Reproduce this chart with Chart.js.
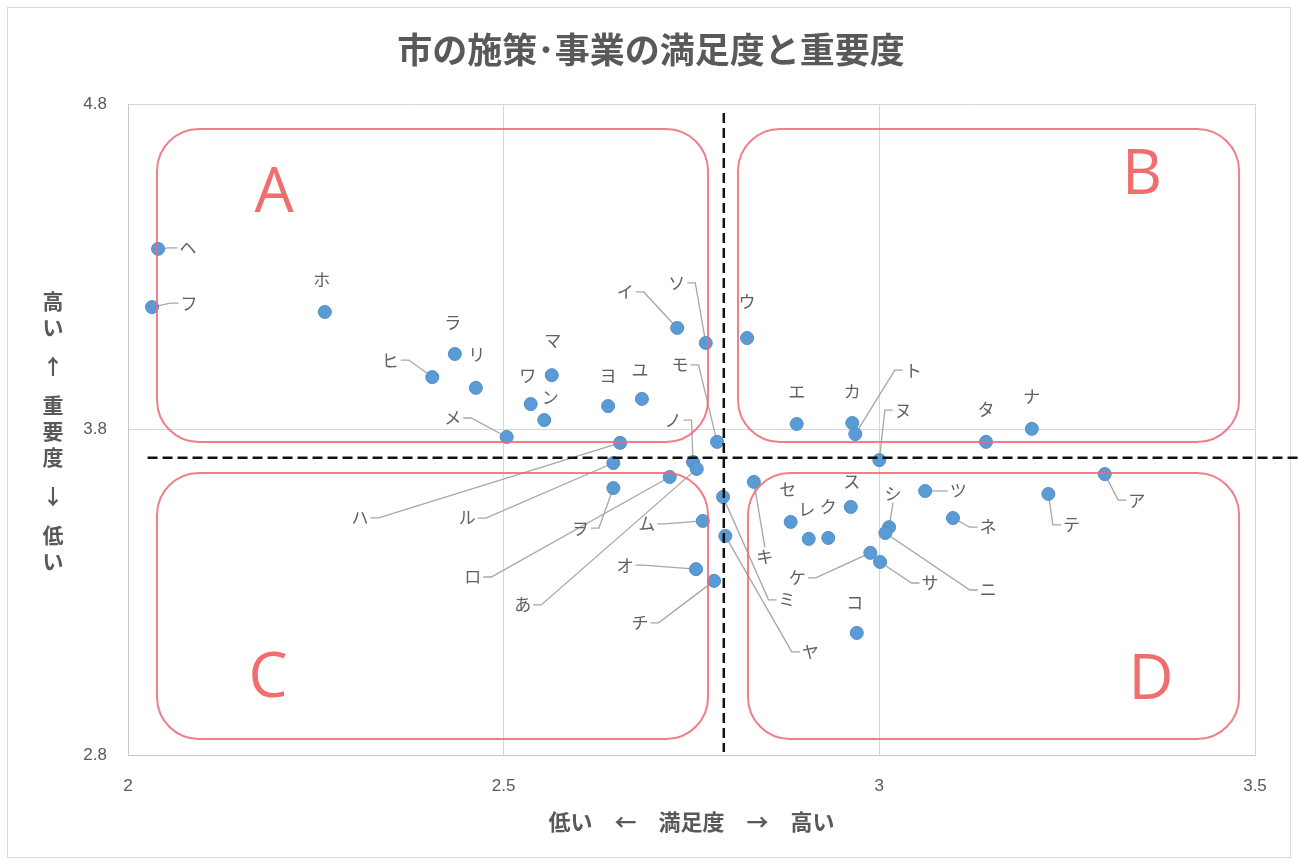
<!DOCTYPE html>
<html lang="ja">
<head>
<meta charset="utf-8">
<title>市の施策・事業の満足度と重要度</title>
<script src="https://cdn.jsdelivr.net/npm/chart.js@4.4.1/dist/chart.umd.min.js"></script>
<style>
  html, body { margin: 0; padding: 0; background: #fff; }
  #wrap { width: 1298px; height: 865px; }
</style>
</head>
<body>
<div id="wrap"><canvas id="c" width="1298" height="865"></canvas></div>
<script>
// 施策・事業ごとの満足度(x)と重要度(y)
const categories = ['ア','イ','ウ','エ','オ','カ','キ','ク','ケ','コ','サ','シ','ス','セ','ソ','タ','チ','ツ','テ','ト',
                    'ナ','ニ','ヌ','ネ','ノ','ハ','ヒ','フ','ヘ','ホ','マ','ミ','ム','メ','モ','ヤ','ユ','ヨ','ラ','リ',
                    'ル','レ','ロ','ワ','ヲ','ン','あ'];
const satisfaction = [3.300, 2.731, 2.824, 2.890, 2.756, 2.964, 2.833, 2.932, 2.988, 2.970, 3.001, 3.013, 2.962, 2.882, 2.769, 3.142, 2.780, 3.061, 3.225, 2.968,
                      3.203, 3.008, 3.000, 3.098, 2.752, 2.655, 2.405, 2.032, 2.040, 2.262, 2.564, 2.792, 2.765, 2.504, 2.784, 2.795, 2.684, 2.639, 2.435, 2.463,
                      2.646, 2.906, 2.721, 2.536, 2.646, 2.554, 2.757];
const importance   = [3.663, 4.112, 4.081, 3.817, 3.371, 3.820, 3.639, 3.467, 3.421, 3.175, 3.393, 3.500, 3.562, 3.516, 4.066, 3.762, 3.335, 3.611, 3.602, 3.786,
                      3.802, 3.482, 3.706, 3.528, 3.700, 3.759, 3.961, 4.176, 4.355, 4.161, 3.967, 3.593, 3.519, 3.777, 3.762, 3.473, 3.894, 3.872, 4.032, 3.928,
                      3.697, 3.464, 3.654, 3.878, 3.620, 3.829, 3.679];

// 軸の目盛り
const xTicks = [2, 2.5, 3, 3.5];
const yTicks = [2.8, 3.8, 4.8];

// 平均値の基準線
const averageSatisfaction = 2.793;
const averageImportance = 3.713;

// 象限の名前
const quadrantNames = ['A', 'B', 'C', 'D'];

// ---- layout / styling below ----
const FONT = '"Noto Sans CJK JP", "Noto Sans", sans-serif';
const TEXT = '#595959';

// label offset from its point in px: [dx, dy, leader line]
const labelOffsets = [
  [32,26,1], [-52,-36,1], [0,-36,0], [0,-32,0], [-71,-4,1], [0,-31,0], [11,75,1], [0,-31,0], [-73,25,1], [-2,-30,0],
  [50,21,1], [4,-34,1], [1,-25,0], [-3,-32,0], [-29,-60,1], [0,-32,0], [-74,42,1], [33,0,1], [23,31,1], [58,-64,1],
  [0,-32,0], [103,57,1], [24,-50,1], [35,9,1], [-20,-42,1], [-260,75,1], [-42,-17,1], [37,-4,1], [30,-1,1], [-3,-32,0],
  [1,-35,0], [64,103,1], [-56,3,1], [-54,-19,1], [-37,-77,1], [85,116,1], [-2,-29,0], [0,-31,0], [-2,-31,0], [1,-33,0],
  [-146,55,1], [-2,-29,0], [-197,100,1], [-3,-29,0], [-33,40,1], [6,-23,0], [-174,136,1]
];

// quadrant frames in axis units, with the letter position
const quadrantFrames = [
  { x0: 2.0386, x1: 2.7720, y0: 4.7232, y1: 3.7616, lx: 2.1943, ly: 4.5389 },
  { x0: 2.8119, x1: 3.4788, y0: 4.7232, y1: 3.7616, lx: 3.3497, ly: 4.5942 },
  { x0: 2.0386, x1: 2.7720, y0: 3.6664, y1: 2.8492, lx: 2.1863, ly: 3.0488 },
  { x0: 2.8252, x1: 3.4788, y0: 3.6664, y1: 2.8492, lx: 3.3616, ly: 3.0427 }
];

const LABEL_FONT = '17px ' + FONT;

const framePlugin = {
  id: 'outerFrame',
  beforeDraw(chart) {
    const c = chart.ctx;
    c.save();
    c.fillStyle = '#fff';
    c.fillRect(0, 0, chart.width, chart.height);
    c.strokeStyle = '#d9d9d9';
    c.lineWidth = 1;
    c.strokeRect(7.5, 7.5, 1283, 850);
    c.restore();
  }
};

const leaderAndLabels = {
  id: 'leaderAndLabels',
  beforeDatasetsDraw(chart) {
    const c = chart.ctx;
    const meta = chart.getDatasetMeta(0);
    c.save();
    c.font = LABEL_FONT;
    c.strokeStyle = '#a6a6a6';
    c.lineWidth = 1.3;
    meta.data.forEach((el, i) => {
      const [dx, dy, lead] = labelOffsets[i];
      if (!lead) return;
      const lx = el.x + dx, ly = el.y + dy;
      const w = c.measureText(categories[i]).width;
      const h = 17;
      const left = lx - w / 2 - 2, right = lx + w / 2 + 2;
      c.beginPath();
      if (el.x < left - 8) {
        c.moveTo(left, ly); c.lineTo(left - 8, ly); c.lineTo(el.x, el.y);
      } else if (el.x > right + 8) {
        c.moveTo(right, ly); c.lineTo(right + 8, ly); c.lineTo(el.x, el.y);
      } else {
        const yy = el.y > ly ? ly + h / 2 + 1 : ly - h / 2 - 1;
        c.moveTo(lx, yy); c.lineTo(el.x, el.y);
      }
      c.stroke();
    });
    c.restore();
  },
  afterDatasetsDraw(chart) {
    const c = chart.ctx;
    const {x, y} = chart.scales;
    // average lines
    c.save();
    c.strokeStyle = '#111';
    c.lineWidth = 2.5;
    c.setLineDash([10, 5]);
    c.beginPath();
    const hy = y.getPixelForValue(averageImportance);
    c.moveTo(x.getPixelForValue(2.026), hy);
    c.lineTo(x.getPixelForValue(3.6), hy);
    const vx = x.getPixelForValue(averageSatisfaction);
    c.moveTo(vx, y.getPixelForValue(4.772));
    c.lineTo(vx, y.getPixelForValue(2.809));
    c.stroke();
    c.restore();

    // point labels
    const meta = chart.getDatasetMeta(0);
    c.save();
    c.font = LABEL_FONT;
    c.fillStyle = '#606060';
    c.textAlign = 'center';
    c.textBaseline = 'middle';
    meta.data.forEach((el, i) => {
      const [dx, dy] = labelOffsets[i];
      c.fillText(categories[i], el.x + dx, el.y + dy);
    });
    c.restore();
  },
  afterDraw(chart) {
    const c = chart.ctx;
    const {x, y} = chart.scales;
    // quadrant frames
    c.save();
    c.strokeStyle = 'rgba(238, 104, 116, 0.85)';
    c.lineWidth = 2;
    quadrantFrames.forEach((q, i) => {
      const l = x.getPixelForValue(q.x0), r = x.getPixelForValue(q.x1);
      const t = y.getPixelForValue(q.y0), b = y.getPixelForValue(q.y1);
      const rad = 42;
      c.beginPath();
      c.moveTo(l + rad, t);
      c.arcTo(r, t, r, b, rad);
      c.arcTo(r, b, l, b, rad);
      c.arcTo(l, b, l, t, rad);
      c.arcTo(l, t, r, t, rad);
      c.closePath();
      c.stroke();
      c.fillStyle = '#f06e6e';
      c.font = '62px "Open Sans", "Liberation Sans", sans-serif';
      c.textAlign = 'center';
      c.textBaseline = 'alphabetic';
      c.fillText(quadrantNames[i], x.getPixelForValue(q.lx), y.getPixelForValue(q.ly) + 23);
    });
    c.restore();

    // vertical y-axis title, characters stacked upright
    const items = ['高', 'い', ' ', '↑', ' ', '重', '要', '度', ' ', '↓', ' ', '低', 'い'];
    const pitch = 26, half = 13;
    let total = 0;
    items.forEach(ch => total += (ch === ' ' ? half : pitch));
    const ca = chart.chartArea;
    let cy = (ca.top + ca.bottom) / 2 + 2 - total / 2;
    c.save();
    c.font = 'bold 21px ' + FONT;
    c.fillStyle = TEXT;
    c.textAlign = 'center';
    c.textBaseline = 'middle';
    items.forEach(ch => {
      const step = ch === ' ' ? half : pitch;
      if (ch !== ' ') c.fillText(ch, 53, cy + step / 2);
      cy += step;
    });
    c.restore();
  }
};

new Chart(document.getElementById('c'), {
  type: 'scatter',
  data: {
    datasets: [{
      data: categories.map((name, i) => ({ x: satisfaction[i], y: importance[i] })),
      pointRadius: 6.5,
      pointHoverRadius: 6.5,
      backgroundColor: '#5b9bd5',
      borderColor: '#4f8fcb',
      borderWidth: 1
    }]
  },
  options: {
    responsive: false,
    animation: false,
    devicePixelRatio: 1,
    layout: { padding: { left: 47, right: 43, top: 10, bottom: 30 } },
    plugins: {
      legend: { display: false },
      tooltip: { enabled: false },
      title: {
        display: true,
        text: '市の施策･事業の満足度と重要度',
        color: TEXT,
        font: { family: FONT, size: 35, weight: 'bold' },
        padding: { top: 19, bottom: 33 }
      }
    },
    scales: {
      x: {
        type: 'linear',
        min: 2, max: 3.5,
        afterBuildTicks: s => { s.ticks = xTicks.map(v => ({ value: v })); },
        afterFit: s => { s.height = 80; },
        grid: { color: '#d6d6d6', drawTicks: false },
        border: { display: true, color: '#c8c8c8' },
        ticks: { padding: 21, color: TEXT, font: { family: '"Liberation Sans", sans-serif', size: 17 },
                 callback: v => String(v) },
        title: { display: true, text: '低い　←　満足度　→　高い', color: TEXT,
                 font: { family: FONT, size: 22, weight: 'bold' }, padding: { top: 0, bottom: 0 } }
      },
      y: {
        type: 'linear',
        min: 2.8, max: 4.8,
        afterBuildTicks: s => { s.ticks = yTicks.map(v => ({ value: v })); },
        afterFit: s => { s.width = 81; },
        grid: { color: '#d6d6d6', drawTicks: false },
        border: { display: true, color: '#c8c8c8' },
        ticks: { padding: 21, color: TEXT, font: { family: '"Liberation Sans", sans-serif', size: 17 },
                 callback: v => Number(v).toFixed(1) }
      }
    }
  },
  plugins: [framePlugin, leaderAndLabels]
});
</script>
</body>
</html>
